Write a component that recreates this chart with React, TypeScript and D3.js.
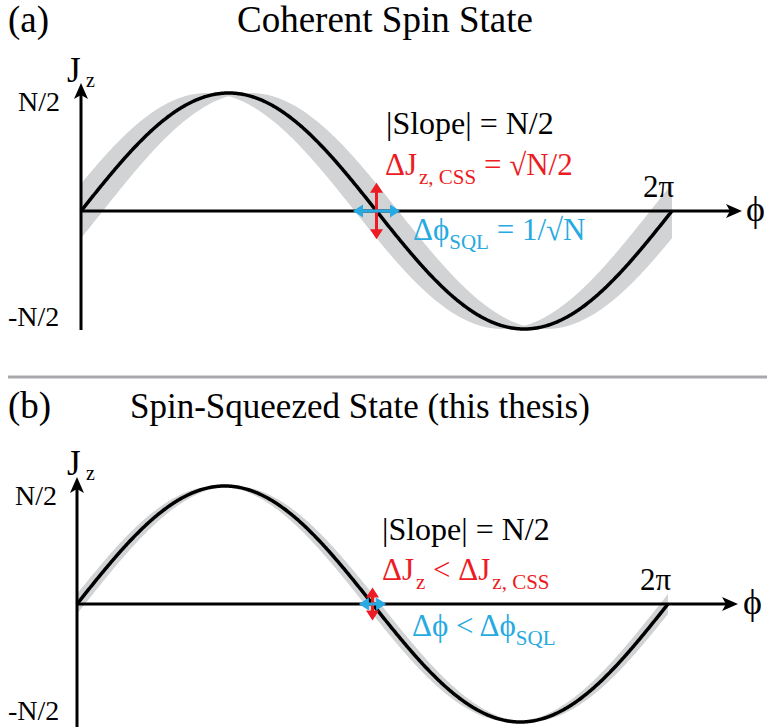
import React from "react";
import * as d3 from "d3";

// Panel captions and titles
const panelTags = ["(a)", "(b)"];
const panelTitles = ["Coherent Spin State", "Spin-Squeezed State (this thesis)"];
const titleSizes = [37, 35];

// Axis tick labels (J_z in units of N/2, phase in radians)
const jzTickValues = [1, -1];
const jzTickLabels = ["N/2", "-N/2"];
const phaseEnd = 2 * Math.PI;
const phaseEndLabel = "2π";

// Half-width of the gray uncertainty band along ϕ (rad), per panel
const bandPhaseSpread = [0.232, 0.085];
// Half-length of the red ΔJz arrow (units of N/2) and cyan Δϕ arrow (rad), per panel
const jzArrowHalf = [0.24, 0.14];
const phiArrowHalf = [0.25, 0.145];

const RED = "#ed1c24";
const CYAN = "#27aae1";
const BAND = "#d1d3d4";
const FONT = "Liberation Serif, Times New Roman, serif";

type Layout = {
  x0: number;
  axisY: number;
  xTip: number;
  yTop: number;
  yBottom: number;
  tagY: number;
  titleX: number;
  titleY: number;
  tickX: number[];
  tickY: number[];
  jX: number;
  jY: number;
  piX: number;
  piY: number;
  phiX: number;
  phiY: number;
};

const layouts: Layout[] = [
  {
    x0: 81, axisY: 211, xTip: 742, yTop: 83, yBottom: 330,
    tagY: 32, titleX: 237, titleY: 32,
    tickX: [18, 8], tickY: [111, 326],
    jX: 67, jY: 82, piX: 643, piY: 197, phiX: 746, phiY: 221,
  },
  {
    x0: 77, axisY: 604, xTip: 738, yTop: 477, yBottom: 727,
    tagY: 418, titleX: 130, titleY: 418,
    tickX: [15, 8], tickY: [505, 720],
    jX: 67, jY: 475, piX: 640, piY: 590, phiX: 743, phiY: 614,
  },
];

const PERIOD_PX = 591;
const AMP_PX = 118;

function hasAngle(lo: number, hi: number, c: number) {
  const k = Math.ceil((lo - c) / (2 * Math.PI));
  return c + 2 * Math.PI * k <= hi;
}

function Arrow({ x1, y1, x2, y2, color, w, head, hw }: any) {
  const ang = Math.atan2(y2 - y1, x2 - x1);
  const ux = Math.cos(ang), uy = Math.sin(ang);
  const px = -uy, py = ux;
  const tri = (tx: number, ty: number, dx: number, dy: number) => {
    const bx = tx - dx * head, by = ty - dy * head;
    return `M${tx},${ty}L${bx + px * hw},${by + py * hw}L${bx - px * hw},${by - py * hw}Z`;
  };
  return (
    <g>
      <line x1={x1 + ux * head * 0.6} y1={y1 + uy * head * 0.6} x2={x2 - ux * head * 0.6} y2={y2 - uy * head * 0.6}
        stroke={color} strokeWidth={w} />
      <path d={tri(x2, y2, ux, uy)} fill={color} />
      <path d={tri(x1, y1, -ux, -uy)} fill={color} />
    </g>
  );
}

function Panel({ idx }: { idx: number }) {
  const L = layouts[idx];
  const x = d3.scaleLinear().domain([0, phaseEnd]).range([L.x0, L.x0 + PERIOD_PX]);
  const y = d3.scaleLinear().domain([-1, 1]).range([L.axisY + AMP_PX, L.axisY - AMP_PX]);
  const phis = d3.range(0, 601).map((i) => (i / 600) * phaseEnd);
  const spread = bandPhaseSpread[idx];

  // Envelope of the curve shifted by ±spread along ϕ
  const band = d3
    .area<number>()
    .x((p) => x(p))
    .y0((p) => {
      const lo = p - spread, hi = p + spread;
      return y(hasAngle(lo, hi, -Math.PI / 2) ? -1 : Math.min(Math.sin(lo), Math.sin(hi)));
    })
    .y1((p) => {
      const lo = p - spread, hi = p + spread;
      return y(hasAngle(lo, hi, Math.PI / 2) ? 1 : Math.max(Math.sin(lo), Math.sin(hi)));
    })(phis);

  const curve = d3
    .line<number>()
    .x((p) => x(p))
    .y((p) => y(Math.sin(p)))(phis);

  const cx = x(Math.PI);
  const cy = y(0);

  return (
    <g fontFamily={FONT}>
      <text x={8} y={L.tagY} fontSize={37}>{panelTags[idx]}</text>
      <text x={L.titleX} y={L.titleY} fontSize={titleSizes[idx]}>{panelTitles[idx]}</text>

      <path d={band || ""} fill={BAND} />
      <path d={curve || ""} fill="none" stroke="#000" strokeWidth={3.5} />

      {/* axes */}
      <line x1={L.x0} y1={L.axisY} x2={L.xTip - 10} y2={L.axisY} stroke="#000" strokeWidth={3} />
      <path d={`M${L.xTip},${L.axisY}L${L.xTip - 16},${L.axisY - 7}L${L.xTip - 12},${L.axisY}L${L.xTip - 16},${L.axisY + 7}Z`} />
      <line x1={L.x0} y1={L.yBottom} x2={L.x0} y2={L.yTop + 10} stroke="#000" strokeWidth={3} />
      <path d={`M${L.x0},${L.yTop}L${L.x0 - 7},${L.yTop + 16}L${L.x0},${L.yTop + 12}L${L.x0 + 7},${L.yTop + 16}Z`} />

      {jzTickValues.map((v, i) => (
        <text key={i} x={L.tickX[i]} y={L.tickY[i]} fontSize={28}>{jzTickLabels[i]}</text>
      ))}
      <text x={L.jX} y={L.jY} fontSize={35}>J</text>
      <text x={L.jX + 19} y={L.jY + 5} fontSize={20}>z</text>
      <text x={L.piX} y={L.piY} fontSize={31}>{phaseEndLabel}</text>
      <text x={L.phiX} y={L.phiY} fontSize={36}>ϕ</text>

      {/* uncertainty arrows at the zero crossing */}
      <Arrow x1={cx} y1={y(-jzArrowHalf[idx])} x2={cx} y2={y(jzArrowHalf[idx])} color={RED} w={3} head={10} hw={6.5} />
      <Arrow x1={x(Math.PI - phiArrowHalf[idx])} y1={cy} x2={x(Math.PI + phiArrowHalf[idx])} y2={cy} color={CYAN} w={3} head={10} hw={6.5} />

      {idx === 0 ? (
        <g>
          <text x={386} y={134} fontSize={32}>|Slope| = N/2</text>
          <text x={385} y={175} fontSize={31} fill={RED}>
            ΔJ<tspan dx={2} dy={9} fontSize={21}>z, CSS</tspan>
            <tspan dy={-9}> = √N/2</tspan>
          </text>
          <text x={413} y={240} fontSize={31} fill={CYAN}>
            Δϕ<tspan dy={9} fontSize={21}>SQL</tspan>
            <tspan dy={-9}> = 1/√N</tspan>
          </text>
        </g>
      ) : (
        <g>
          <text x={382} y={540} fontSize={32}>|Slope| = N/2</text>
          <text x={382} y={580} fontSize={31} fill={RED}>
            ΔJ<tspan dx={2} dy={9} fontSize={21}>z</tspan>
            <tspan dy={-9}> &lt; ΔJ</tspan>
            <tspan dx={2} dy={9} fontSize={21}>z, CSS</tspan>
          </text>
          <text x={412} y={636} fontSize={31} fill={CYAN}>
            Δϕ &lt; Δϕ<tspan dy={9} fontSize={21}>SQL</tspan>
          </text>
        </g>
      )}
    </g>
  );
}

export default function App() {
  return (
    <svg width={767} height={727} style={{ position: "absolute", left: 0, top: 0, background: "#fff" }}>
      <rect width={767} height={727} fill="#fff" />
      <Panel idx={0} />
      <line x1={8} y1={377} x2={767} y2={377} stroke="#a7a9ac" strokeWidth={3} />
      <Panel idx={1} />
    </svg>
  );
}
